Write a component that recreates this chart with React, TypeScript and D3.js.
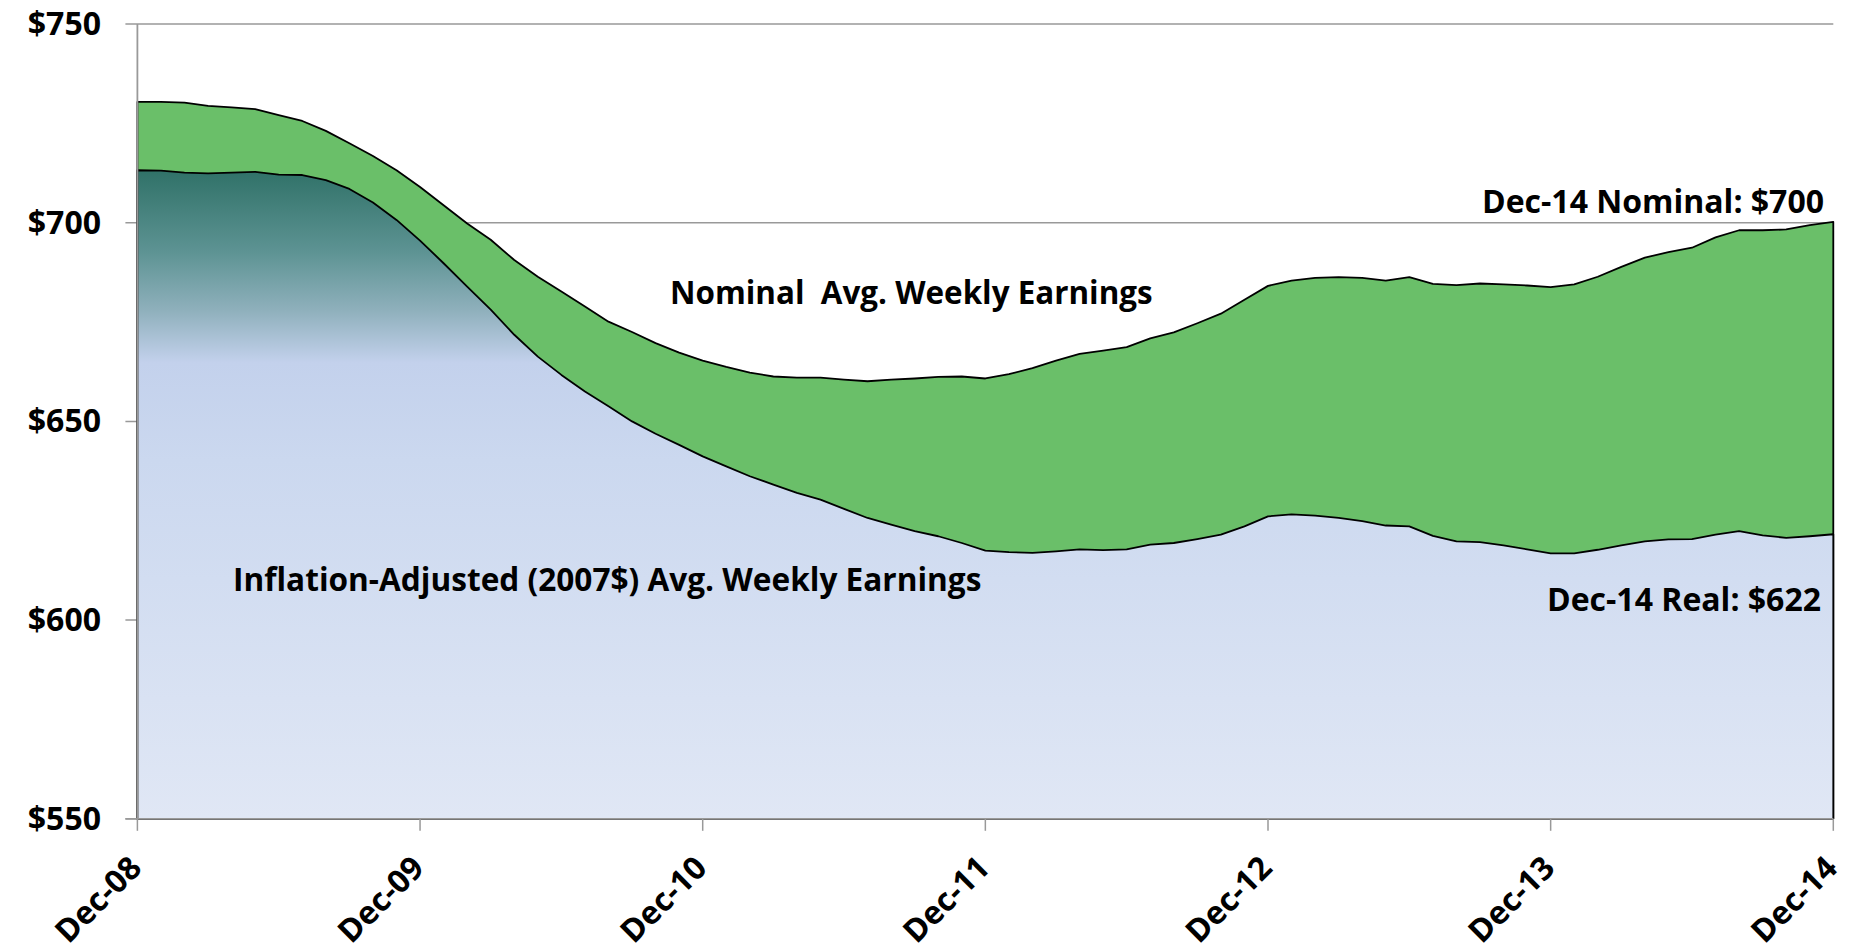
import React from "react";
import * as d3 from "d3";

// monthly values, Dec-08 .. Dec-14
const months = d3.range(0, 73);

const nominal = [
  730.4, 730.4, 730.2, 729.4, 729.0, 728.6, 727.1, 725.6, 723.1, 720.0, 716.8, 713.2,
  709.0, 704.4, 699.8, 695.7, 690.6, 686.4, 682.7, 678.9, 675.1, 672.5, 669.7, 667.3,
  665.3, 663.7, 662.3, 661.3, 661.0, 661.0, 660.5, 660.1, 660.5, 660.8, 661.2, 661.3,
  660.8, 661.9, 663.4, 665.3, 667.0, 667.8, 668.7, 670.9, 672.4, 674.7, 677.1, 680.6,
  684.1, 685.4, 686.1, 686.3, 686.1, 685.4, 686.3, 684.6, 684.3, 684.7, 684.5, 684.2,
  683.8, 684.5, 686.4, 688.9, 691.2, 692.6, 693.7, 696.3, 698.1, 698.1, 698.3, 699.4,
  700.2,
];

const real = [
  713.2, 713.1, 712.6, 712.4, 712.6, 712.8, 712.1, 712.0, 710.7, 708.5, 705.1, 700.7,
  695.5, 689.8, 683.9, 678.1, 671.8, 666.3, 661.7, 657.5, 653.8, 650.0, 646.9, 644.1,
  641.2, 638.7, 636.2, 634.1, 632.0, 630.3, 628.0, 625.7, 624.0, 622.4, 621.1, 619.4,
  617.5, 617.1, 616.9, 617.3, 617.8, 617.6, 617.8, 619.0, 619.4, 620.4, 621.5, 623.6,
  626.1, 626.6, 626.3, 625.7, 624.9, 623.8, 623.6, 621.2, 619.8, 619.6, 618.8, 617.8,
  616.8, 616.8, 617.7, 618.8, 619.8, 620.3, 620.4, 621.5, 622.4, 621.3, 620.7, 621.1,
  621.6,
];

const xTickIdx = [0, 12, 24, 36, 48, 60, 72];
const xTickLabels = ["Dec-08", "Dec-09", "Dec-10", "Dec-11", "Dec-12", "Dec-13", "Dec-14"];
const yTicks = [550, 600, 650, 700, 750];

const W = 1857;
const H = 946;
const left = 137.4;
const right = 1833.3;
const top = 24;
const bottom = 818.8;
const font = "'Open Sans', 'Noto Sans', sans-serif";
const fs = 32;

export default function App() {
  const x = d3.scaleLinear().domain([0, 72]).range([left, right]);
  const y = d3.scaleLinear().domain([550, 750]).range([bottom, top]);

  const nomArea = d3.area<number>()
    .x(i => x(i))
    .y0(y(550))
    .y1(i => y(nominal[i]));
  const realArea = d3.area<number>()
    .x(i => x(i))
    .y0(y(550))
    .y1(i => y(real[i]));

  const axisGray = "#999999";

  return (
    <svg width={W} height={H} style={{ position: "absolute", left: 0, top: 0, background: "#fff" }}
         fontFamily={font} fontWeight="bold">
      <defs>
        <linearGradient id="realFill" gradientUnits="userSpaceOnUse" x1={0} x2={0} y1={y(714)} y2={y(550)}>
          <stop offset="0" stopColor="#2e7066" />
          <stop offset="0.13" stopColor="#5d9393" />
          <stop offset="0.22" stopColor="#8fb0bc" />
          <stop offset="0.3" stopColor="#c3d1ec" />
          <stop offset="0.45" stopColor="#cbd8ef" />
          <stop offset="1" stopColor="#e0e7f5" />
        </linearGradient>
      </defs>

      {/* gridlines + y ticks */}
      {yTicks.map(t => (
        <g key={t}>
          <line x1={left - 12} x2={right} y1={y(t)} y2={y(t)} stroke={axisGray} strokeWidth={1.5} />
          <text x={101} y={y(t) + 11} textAnchor="end" fontSize={fs} fill="#000">${t}</text>
        </g>
      ))}

      {/* areas */}
      <path d={nomArea(months) ?? ""} fill="#6abf69" stroke="#000" strokeWidth={1.8} strokeLinejoin="round" />
      <path d={realArea(months) ?? ""} fill="url(#realFill)" stroke="#000" strokeWidth={1.8} strokeLinejoin="round" />

      {/* axes */}
      <line x1={left} x2={left} y1={top} y2={bottom} stroke={axisGray} strokeWidth={1.8} />
      <line x1={left - 12} x2={right} y1={bottom} y2={bottom} stroke={axisGray} strokeWidth={1.8} />
      {xTickIdx.map((m, i) => (
        <g key={m}>
          <line x1={x(m)} x2={x(m)} y1={bottom} y2={bottom + 12} stroke={axisGray} strokeWidth={1.5} />
          <text transform={`translate(${x(m) + 6},${bottom + 51}) rotate(-45)`} textAnchor="end"
                fontSize={fs} fill="#000">{xTickLabels[i]}</text>
        </g>
      ))}

      {/* annotations */}
      <text x={670} y={304} fontSize={31.4} fill="#000" style={{ whiteSpace: "pre" }}>Nominal  Avg. Weekly Earnings</text>
      <text x={233} y={591} fontSize={31.6} fill="#000">Inflation-Adjusted (2007$) Avg. Weekly Earnings</text>
      <text x={1824} y={212.7} textAnchor="end" fontSize={fs} fill="#000">Dec-14 Nominal: ${nominal[72].toFixed(0)}</text>
      <text x={1821} y={611} textAnchor="end" fontSize={fs} fill="#000">Dec-14 Real: ${real[72].toFixed(0)}</text>
    </svg>
  );
}
